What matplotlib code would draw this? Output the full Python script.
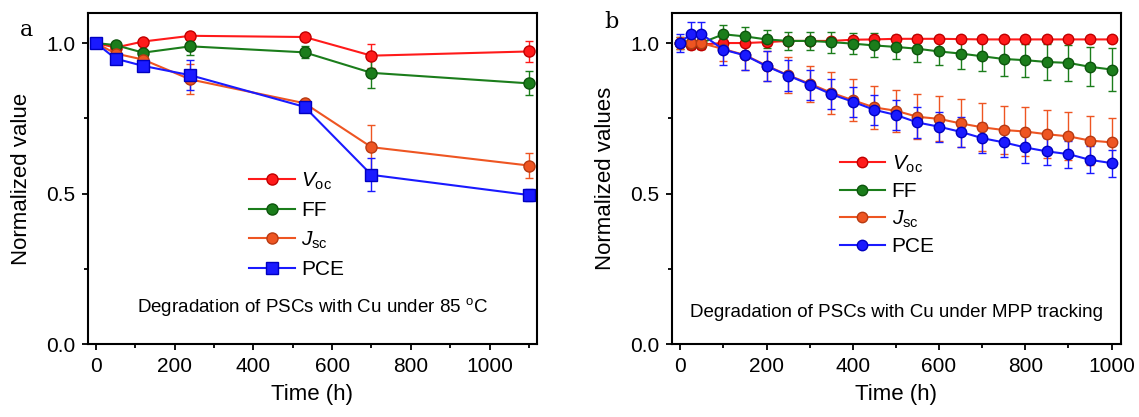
import numpy as np
import matplotlib.pyplot as plt
from matplotlib.ticker import MultipleLocator

plt.rcParams['font.family'] = ['Liberation Sans', 'DejaVu Sans']
plt.rcParams['mathtext.fontset'] = 'custom'
plt.rcParams['mathtext.it'] = 'Liberation Sans:italic'
plt.rcParams['mathtext.rm'] = 'Liberation Sans'

# panel a: 85 C
t_a = [0, 50, 120, 240, 530, 700, 1100]
voc_a = [1.0, 0.985, 1.005, 1.024, 1.02, 0.958, 0.972]
voc_a_err = [0.01, 0.01, 0.01, 0.01, 0.01, 0.04, 0.035]
ff_a = [1.0, 0.993, 0.968, 0.989, 0.969, 0.901, 0.866]
ff_a_err = [0.01, 0.01, 0.01, 0.03, 0.02, 0.05, 0.04]
jsc_a = [1.0, 0.965, 0.945, 0.879, 0.80, 0.654, 0.593]
jsc_a_err = [0.01, 0.01, 0.01, 0.05, 0.01, 0.075, 0.04]
pce_a = [1.0, 0.948, 0.924, 0.893, 0.788, 0.562, 0.495]
pce_a_err = [0.01, 0.01, 0.01, 0.05, 0.01, 0.055, 0.02]

# panel b: MPP tracking
t_b = [0, 24, 48, 100, 150, 200, 250, 300, 350, 400, 450, 500,
       550, 600, 650, 700, 750, 800, 850, 900, 950, 1000]
voc_b = [1.0, 0.995, 0.995, 1.0, 1.0, 1.003, 1.007, 1.007, 1.007, 1.011, 1.012, 1.014,
         1.014, 1.014, 1.013, 1.012, 1.012, 1.012, 1.012, 1.012, 1.012, 1.012]
voc_b_err = [0.01] * 22
ff_b = [1.0, 1.0, 1.0, 1.029, 1.022, 1.012, 1.007, 1.007, 1.003, 0.998, 0.992, 0.987,
        0.981, 0.972, 0.965, 0.956, 0.947, 0.943, 0.937, 0.934, 0.921, 0.912]
ff_b_err = [0.02, 0.02, 0.02, 0.03, 0.03, 0.03, 0.03, 0.03, 0.035, 0.035, 0.04, 0.04,
            0.045, 0.045, 0.05, 0.05, 0.055, 0.055, 0.06, 0.06, 0.065, 0.07]
jsc_b = [1.0, 1.0, 1.0, 0.98, 0.96, 0.925, 0.893, 0.865, 0.835, 0.81, 0.786, 0.775,
         0.755, 0.748, 0.733, 0.72, 0.711, 0.706, 0.697, 0.69, 0.676, 0.67]
jsc_b_err = [0.02, 0.02, 0.02, 0.04, 0.05, 0.05, 0.06, 0.06, 0.07, 0.07, 0.07, 0.07,
             0.075, 0.075, 0.08, 0.08, 0.08, 0.08, 0.08, 0.08, 0.08, 0.08]
pce_b = [1.0, 1.031, 1.031, 0.978, 0.959, 0.923, 0.892, 0.862, 0.83, 0.805, 0.778, 0.761,
         0.736, 0.722, 0.705, 0.684, 0.67, 0.653, 0.64, 0.631, 0.612, 0.601]
pce_b_err = [0.03, 0.04, 0.04, 0.05, 0.05, 0.05, 0.05, 0.05, 0.05, 0.05, 0.05, 0.05,
             0.05, 0.05, 0.05, 0.05, 0.05, 0.05, 0.045, 0.045, 0.045, 0.045]

labels = [r'$V_\mathrm{oc}$', 'FF', r'$J_\mathrm{sc}$', 'PCE']
colors = ['#ff1a1a', '#1b7d1b', '#ee5522', '#1a1aff']
edges = ['#c00000', '#0d550d', '#b83a12', '#0000c0']

fig = plt.figure(figsize=(11.39, 4.17), dpi=100)
ax_a = fig.add_axes([0.0773, 0.175, 0.394, 0.794])
ax_b = fig.add_axes([0.5897, 0.175, 0.3945, 0.794])


def draw(ax, t, series, errs, markers, ms):
    handles = []
    for y, e, lab, c, ec, m in zip(series, errs, labels, colors, edges, markers):
        cont = ax.errorbar(t, y, yerr=e, color=c, marker=m, markersize=ms, mfc=c, mec=ec,
                           lw=1.5, elinewidth=1.0, capsize=3, ecolor=c, label=lab)
        handles.append(cont[0])  # legend shows line + marker only
    return handles


h_a = draw(ax_a, t_a, [voc_a, ff_a, jsc_a, pce_a], [voc_a_err, ff_a_err, jsc_a_err, pce_a_err],
           ['o', 'o', 'o', 's'], 8)
h_b = draw(ax_b, t_b, [voc_b, ff_b, jsc_b, pce_b], [voc_b_err, ff_b_err, jsc_b_err, pce_b_err],
           ['o', 'o', 'o', 'o'], 7.5)

ax_a.set_xlim(-20, 1120)
ax_b.set_xlim(-20, 1022)
for ax in (ax_a, ax_b):
    ax.set_ylim(0, 1.1)
    ax.yaxis.set_major_locator(MultipleLocator(0.5))
    ax.yaxis.set_minor_locator(MultipleLocator(0.25))
    ax.xaxis.set_major_locator(MultipleLocator(200))
    ax.xaxis.set_minor_locator(MultipleLocator(100))
    ax.tick_params(which='major', direction='out', length=4, width=1.3, labelsize=15, pad=5)
    ax.tick_params(which='minor', direction='out', length=3, width=1.3)
    for s in ax.spines.values():
        s.set_linewidth(1.5)
    ax.set_xlabel('Time (h)', fontsize=16, labelpad=6)

ax_a.set_ylabel('Normalized value', fontsize=16, labelpad=10)
ax_b.set_ylabel('Normalized values', fontsize=16, labelpad=10)
ax_a.legend(h_a, labels, loc='upper left', bbox_to_anchor=(0.34, 0.55), frameon=False,
            fontsize=15, handlelength=2.2, handletextpad=0.3, labelspacing=0.45,
            borderaxespad=0)
ax_b.legend(h_b, labels, loc='upper left', bbox_to_anchor=(0.355, 0.60), frameon=False,
            fontsize=15, handlelength=2.2, handletextpad=0.3, labelspacing=0.35,
            borderaxespad=0)

ax_a.text(0.5, 0.112, r'Degradation of PSCs with Cu under 85 $^\mathrm{o}$C',
          transform=ax_a.transAxes, ha='center', va='center', fontsize=13.5)
ax_b.text(0.5, 0.094, 'Degradation of PSCs with Cu under MPP tracking',
          transform=ax_b.transAxes, ha='center', va='center', fontsize=13.5)

fig.text(20 / 1139, 1 - 30 / 417, 'a', fontsize=16, family='DejaVu Serif', va='center')
fig.text(604 / 1139, 1 - 22 / 417, 'b', fontsize=16, family='DejaVu Serif', va='center')

fig.savefig('out.png', dpi=100)
